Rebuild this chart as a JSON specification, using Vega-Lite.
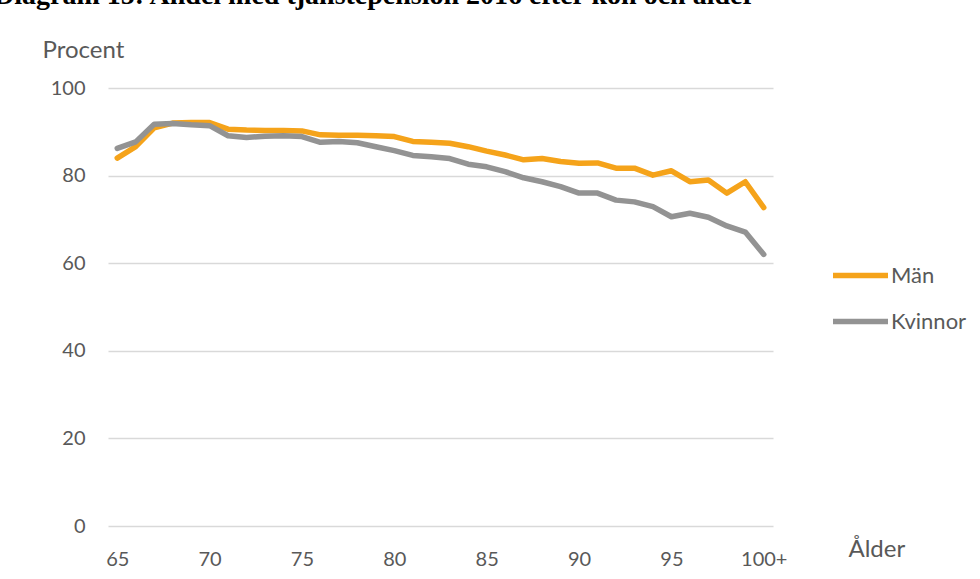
{
  "$schema": "https://vega.github.io/schema/vega-lite/v6.json",
  "width": 665,
  "height": 438,
  "autosize": {"type": "none"},
  "padding": {"left": 108, "top": 88, "right": 207, "bottom": 53},
  "background": "white",
  "title": {
    "text": "Diagram 15: Andel med tjänstepension 2016 efter kön och ålder",
    "anchor": "start",
    "font": "Liberation Serif",
    "fontWeight": "bold",
    "fontSize": 28,
    "color": "#000000",
    "dx": -48,
    "dy": -24
  },
  "datasets": {
    "rows": [
      {"age": "65", "sex": "Män", "value": 84.0}, {"age": "65", "sex": "Kvinnor", "value": 86.2},
      {"age": "66", "sex": "Män", "value": 86.6}, {"age": "66", "sex": "Kvinnor", "value": 87.7},
      {"age": "67", "sex": "Män", "value": 90.9}, {"age": "67", "sex": "Kvinnor", "value": 91.7},
      {"age": "68", "sex": "Män", "value": 92.0}, {"age": "68", "sex": "Kvinnor", "value": 91.9},
      {"age": "69", "sex": "Män", "value": 92.1}, {"age": "69", "sex": "Kvinnor", "value": 91.6},
      {"age": "70", "sex": "Män", "value": 92.1}, {"age": "70", "sex": "Kvinnor", "value": 91.4},
      {"age": "71", "sex": "Män", "value": 90.6}, {"age": "71", "sex": "Kvinnor", "value": 89.1},
      {"age": "72", "sex": "Män", "value": 90.4}, {"age": "72", "sex": "Kvinnor", "value": 88.7},
      {"age": "73", "sex": "Män", "value": 90.3}, {"age": "73", "sex": "Kvinnor", "value": 89.0},
      {"age": "74", "sex": "Män", "value": 90.3}, {"age": "74", "sex": "Kvinnor", "value": 89.1},
      {"age": "75", "sex": "Män", "value": 90.2}, {"age": "75", "sex": "Kvinnor", "value": 88.9},
      {"age": "76", "sex": "Män", "value": 89.3}, {"age": "76", "sex": "Kvinnor", "value": 87.6},
      {"age": "77", "sex": "Män", "value": 89.2}, {"age": "77", "sex": "Kvinnor", "value": 87.8},
      {"age": "78", "sex": "Män", "value": 89.2}, {"age": "78", "sex": "Kvinnor", "value": 87.5},
      {"age": "79", "sex": "Män", "value": 89.1}, {"age": "79", "sex": "Kvinnor", "value": 86.6},
      {"age": "80", "sex": "Män", "value": 88.9}, {"age": "80", "sex": "Kvinnor", "value": 85.7},
      {"age": "81", "sex": "Män", "value": 87.8}, {"age": "81", "sex": "Kvinnor", "value": 84.6},
      {"age": "82", "sex": "Män", "value": 87.6}, {"age": "82", "sex": "Kvinnor", "value": 84.3},
      {"age": "83", "sex": "Män", "value": 87.4}, {"age": "83", "sex": "Kvinnor", "value": 83.9},
      {"age": "84", "sex": "Män", "value": 86.6}, {"age": "84", "sex": "Kvinnor", "value": 82.6},
      {"age": "85", "sex": "Män", "value": 85.6}, {"age": "85", "sex": "Kvinnor", "value": 82.0},
      {"age": "86", "sex": "Män", "value": 84.7}, {"age": "86", "sex": "Kvinnor", "value": 80.9},
      {"age": "87", "sex": "Män", "value": 83.6}, {"age": "87", "sex": "Kvinnor", "value": 79.5},
      {"age": "88", "sex": "Män", "value": 83.9}, {"age": "88", "sex": "Kvinnor", "value": 78.6},
      {"age": "89", "sex": "Män", "value": 83.2}, {"age": "89", "sex": "Kvinnor", "value": 77.5},
      {"age": "90", "sex": "Män", "value": 82.8}, {"age": "90", "sex": "Kvinnor", "value": 76.0},
      {"age": "91", "sex": "Män", "value": 82.9}, {"age": "91", "sex": "Kvinnor", "value": 76.0},
      {"age": "92", "sex": "Män", "value": 81.7}, {"age": "92", "sex": "Kvinnor", "value": 74.4},
      {"age": "93", "sex": "Män", "value": 81.7}, {"age": "93", "sex": "Kvinnor", "value": 74.0},
      {"age": "94", "sex": "Män", "value": 80.1}, {"age": "94", "sex": "Kvinnor", "value": 72.9},
      {"age": "95", "sex": "Män", "value": 81.1}, {"age": "95", "sex": "Kvinnor", "value": 70.6},
      {"age": "96", "sex": "Män", "value": 78.6}, {"age": "96", "sex": "Kvinnor", "value": 71.4},
      {"age": "97", "sex": "Män", "value": 79.0}, {"age": "97", "sex": "Kvinnor", "value": 70.5},
      {"age": "98", "sex": "Män", "value": 76.0}, {"age": "98", "sex": "Kvinnor", "value": 68.5},
      {"age": "99", "sex": "Män", "value": 78.6}, {"age": "99", "sex": "Kvinnor", "value": 67.1},
      {"age": "100+", "sex": "Män", "value": 72.7}, {"age": "100+", "sex": "Kvinnor", "value": 62.0}
    ]
  },
  "data": {"name": "rows"},
  "mark": {"type": "line", "strokeWidth": 5.5, "strokeJoin": "round", "strokeCap": "round"},
  "encoding": {
    "x": {
      "field": "age",
      "type": "ordinal",
      "sort": null,
      "scale": {"type": "point", "padding": 0.5},
      "axis": {
        "title": "Ålder",
        "titleAngle": 0,
        "titleAlign": "left",
        "titleBaseline": "alphabetic",
        "titleX": 740,
        "titleY": 30,
        "titleFont": "Lato",
        "titleFontWeight": "normal",
        "titleFontSize": 24,
        "titleColor": "#595959",
        "values": ["65", "70", "75", "80", "85", "90", "95", "100+"],
        "labelAngle": 0,
        "labelFont": "Lato",
        "labelFontSize": 20,
        "labelColor": "#595959",
        "labelBaseline": "alphabetic",
        "labelPadding": 39,
        "ticks": false,
        "tickSize": 0,
        "domain": false,
        "grid": false
      }
    },
    "y": {
      "field": "value",
      "type": "quantitative",
      "scale": {"domain": [0, 100], "nice": false},
      "axis": {
        "title": "Procent",
        "titleAngle": 0,
        "titleAlign": "left",
        "titleBaseline": "alphabetic",
        "titleX": -66,
        "titleY": -31,
        "titleFont": "Lato",
        "titleFontWeight": "normal",
        "titleFontSize": 24,
        "titleColor": "#595959",
        "values": [0, 20, 40, 60, 80, 100],
        "labelFont": "Lato",
        "labelFontSize": 20,
        "labelColor": "#595959",
        "labelPadding": 23,
        "ticks": false,
        "tickSize": 0,
        "domain": false,
        "grid": true,
        "gridColor": "#D9D9D9",
        "gridWidth": 1.5
      }
    },
    "color": {
      "field": "sex",
      "type": "nominal",
      "scale": {"domain": ["Män", "Kvinnor"], "range": ["#F5A31A", "#939393"]},
      "legend": {
        "title": null,
        "orient": "none",
        "legendX": 722,
        "legendY": 157,
        "symbolType": "stroke",
        "symbolSize": 3025,
        "symbolStrokeWidth": 5.5,
        "labelFont": "Lato",
        "labelFontSize": 22,
        "labelColor": "#595959",
        "labelOffset": 0,
        "rowPadding": 4
      }
    }
  },
  "config": {"view": {"stroke": null}}
}
